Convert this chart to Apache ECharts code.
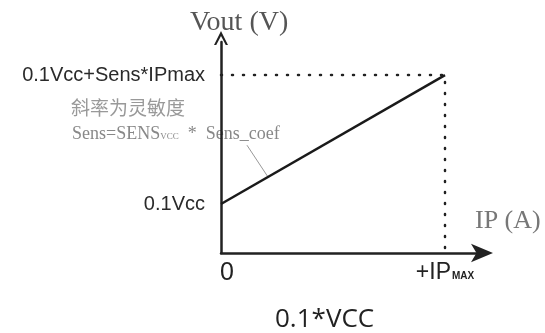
<!DOCTYPE html>
<html>
<head>
<meta charset="utf-8">
<script src="https://cdn.jsdelivr.net/npm/echarts@6/dist/echarts.min.js"></script>
<style>
  html, body { margin: 0; padding: 0; background: #fff; }
  #chart { width: 545px; height: 333px; }
</style>
</head>
<body>
<div id="chart"></div>
<script>
// transfer curve: Vout = 0.1Vcc + Sens * IP  (normalised, Vcc = 1, IPmax = 1)
var ipValues = [0, 1]
var voutValues = [0.1, 0.363]
var yTickValues = [0.1, 0.363]
var yTickLabels = ['0.1Vcc', '0.1Vcc+Sens*IPmax']
var xTickValues = [0, 1]
var xTickLabels = ['{z|0}', '{p|+IP}{s|MAX}']
var guideX = [0, 1, 1]
var guideY = [0.363, 0.363, 0]
var leaderX = [0.116, 0.21]
var leaderY = [0.22, 0.155]

var chart = echarts.init(document.getElementById('chart'))

function pairs(xs, ys) {
  return xs.map(function(x, i) { return [x, ys[i]] })
}

chart.setOption({
  animation: false,
  backgroundColor: '#fff',
  grid: { left: 221, right: 58, top: 42, bottom: 80 },
  xAxis: {
    type: 'value',
    min: 0,
    max: 1.1875,
    splitLine: { show: false },
    axisTick: { show: false },
    axisLine: {
      lineStyle: { color: '#222', width: 2.5 },
      symbol: ['none', 'arrow'],
      symbolSize: [14, 22],
      symbolOffset: [0, 6]
    },
    axisLabel: {
      customValues: xTickValues,
      margin: 8,
      formatter: function(v) { return xTickLabels[xTickValues.indexOf(v)] },
      rich: {
        z: { fontSize: 25, color: '#222', fontFamily: 'Arial', padding: [0, 0, 0, 12] },
        p: { fontSize: 23, color: '#222', fontFamily: 'Arial' },
        s: { fontSize: 10, color: '#222', fontFamily: 'Arial', fontWeight: 'bold', padding: [8, 0, 0, 1] }
      }
    }
  },
  yAxis: {
    type: 'value',
    min: 0,
    max: 0.4306,
    splitLine: { show: false },
    axisTick: { show: false },
    axisLine: {
      lineStyle: { color: '#222', width: 2.5 },
      symbol: ['none', 'path://M0,10 L5,0 L10,10 L8.4,10 L5,3.6 L1.6,10 Z'],
      symbolSize: [18, 14],
      symbolOffset: [0, 4]
    },
    axisLabel: {
      customValues: yTickValues,
      margin: 16,
      color: '#2a2a2a',
      fontFamily: 'Arial',
      fontSize: 20,
      formatter: function(v) { return yTickLabels[yTickValues.indexOf(v)] }
    }
  },
  series: [
    {
      type: 'line',
      data: pairs(guideX, guideY),
      symbol: 'none',
      lineStyle: { color: '#222', width: 2.5, type: [1, 10], cap: 'round' },
      z: 1
    },
    {
      type: 'line',
      data: pairs(leaderX, leaderY),
      symbol: 'none',
      lineStyle: { color: '#999', width: 1 },
      z: 2
    },
    {
      type: 'line',
      data: pairs(ipValues, voutValues),
      symbol: 'none',
      lineStyle: { color: '#1a1a1a', width: 2.5 },
      z: 3
    }
  ],
  graphic: [
    {
      type: 'text', left: 190, top: 9,
      style: { text: 'Vout (V)', font: '28px "Liberation Serif"', fill: '#555' }
    },
    {
      type: 'text', left: 475, top: 208,
      style: { text: 'IP (A)', font: '26px "Liberation Serif"', fill: '#777' }
    },
    {
      type: 'text', left: 71, top: 98,
      style: { text: '斜率为灵敏度', font: '19px "Noto Sans CJK SC"', fill: '#999' }
    },
    {
      type: 'text', left: 72, top: 125,
      style: {
        text: '{a|Sens=SENS}{b|VCC}{a|  *  Sens_coef}',
        rich: {
          a: { font: '18px "Liberation Serif"', fill: '#888' },
          b: { font: '9px "Liberation Serif"', fill: '#888', padding: [6, 0, 0, 0] }
        }
      }
    },
    {
      type: 'text', left: 275, top: 307,
      style: { text: '0.1*VCC', font: '26px "Open Sans"', fill: '#222' }
    }
  ]
})
</script>
</body>
</html>
